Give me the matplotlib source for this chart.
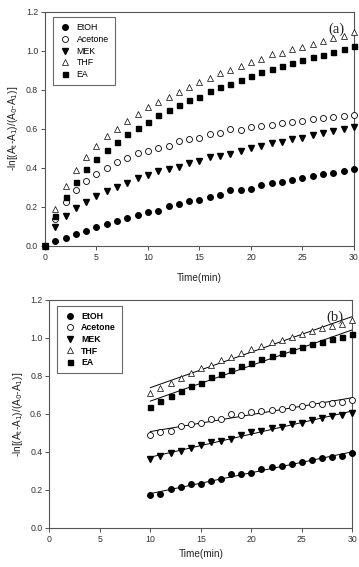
import numpy as np
import matplotlib
matplotlib.use("Agg")
import matplotlib.pyplot as plt

time_min = list(range(0, 31))
etoh = [0.0, 0.022, 0.041, 0.061, 0.077, 0.094, 0.111, 0.127, 0.141, 0.157, 0.173,
        0.179, 0.203, 0.214, 0.229, 0.232, 0.248, 0.258, 0.284, 0.285, 0.289,
        0.311, 0.320, 0.328, 0.337, 0.345, 0.357, 0.368, 0.374, 0.381, 0.393]
acetone = [0.0, 0.136, 0.222, 0.285, 0.331, 0.369, 0.398, 0.428, 0.448, 0.474, 0.487,
           0.503, 0.513, 0.537, 0.545, 0.552, 0.574, 0.576, 0.598, 0.593, 0.609,
           0.615, 0.621, 0.627, 0.636, 0.641, 0.650, 0.655, 0.660, 0.665, 0.672]
mek = [0.0, 0.095, 0.150, 0.192, 0.225, 0.254, 0.279, 0.301, 0.324, 0.345, 0.363,
       0.381, 0.393, 0.405, 0.422, 0.436, 0.453, 0.460, 0.470, 0.487, 0.503,
       0.513, 0.525, 0.533, 0.545, 0.554, 0.568, 0.578, 0.588, 0.597, 0.607]
thf = [0.0, 0.188, 0.307, 0.389, 0.457, 0.511, 0.561, 0.600, 0.641, 0.675, 0.711,
       0.738, 0.764, 0.790, 0.815, 0.841, 0.860, 0.885, 0.899, 0.923, 0.940,
       0.957, 0.981, 0.990, 1.007, 1.021, 1.036, 1.051, 1.063, 1.075, 1.094]
ea = [0.0, 0.151, 0.249, 0.329, 0.391, 0.442, 0.490, 0.531, 0.575, 0.605, 0.636,
      0.668, 0.696, 0.723, 0.747, 0.764, 0.793, 0.812, 0.831, 0.850, 0.868,
      0.891, 0.904, 0.920, 0.937, 0.952, 0.966, 0.980, 0.995, 1.007, 1.022]

series_names = ["EtOH", "Acetone", "MEK", "THF", "EA"]
series_values = [etoh, acetone, mek, thf, ea]
fit_start = 10

styles = [
    dict(marker="o", mfc="black", mec="black", ms=4.0),
    dict(marker="o", mfc="white", mec="black", ms=4.3, mew=0.6),
    dict(marker="v", mfc="black", mec="black", ms=4.0),
    dict(marker="^", mfc="white", mec="black", ms=4.0, mew=0.5),
    dict(marker="s", mfc="black", mec="black", ms=3.6),
]

plt.rcParams["font.family"] = ["Liberation Sans", "DejaVu Sans"]
spine_col = "#555555"

fig = plt.figure(figsize=(3.59, 5.67), dpi=100)
ax1 = fig.add_axes([0.1253, 0.5667, 0.8607, 0.4127])
ax2 = fig.add_axes([0.1373, 0.0688, 0.8441, 0.4021])

t = np.array(time_min)
for name, vals, st in zip(series_names, series_values, styles):
    ax1.plot(t, vals, ls="none", label=name, clip_on=False, zorder=3, **st)

mask = t >= fit_start
for name, vals, st in zip(series_names, series_values, styles):
    v = np.array(vals)
    ax2.plot(t[mask], v[mask], ls="none", label=name, clip_on=False, zorder=3, **st)
    p = np.polyfit(t[mask], v[mask], 1)
    ax2.plot(t[mask], np.polyval(p, t[mask]), color="black", lw=0.7, zorder=2)

ylabel = r"-ln[(A$_{\rm t}$-A$_{\rm 1}$)/(A$_{\rm 0}$-A$_{\rm 1}$)]"
for ax, tag, bold, xpad in [(ax1, "(a)", False, 8), (ax2, "(b)", True, 4)]:
    ax.set_xlim(0, 30)
    ax.set_ylim(0, 1.2)
    ax.set_xticks([0, 5, 10, 15, 20, 25, 30])
    ax.set_yticks([0.0, 0.2, 0.4, 0.6, 0.8, 1.0, 1.2])
    ax.yaxis.set_major_formatter(matplotlib.ticker.FormatStrFormatter("%.1f"))
    ax.tick_params(direction="out", length=3, width=0.6, labelsize=6.3,
                   colors="#333333", pad=2)
    for s in ax.spines.values():
        s.set_color(spine_col)
        s.set_linewidth(0.8)
    ax.set_xlabel("Time(min)", fontsize=7.2, color="#222222", labelpad=xpad)
    ax.set_ylabel(ylabel, fontsize=7.2, color="#222222", labelpad=4)
    ax.text(0.97, 0.955, tag, transform=ax.transAxes, ha="right", va="top",
            fontsize=10.5, family="Liberation Serif", color="#222222")
    leg = ax.legend(loc="upper left", bbox_to_anchor=(0.012, 0.995),
                    frameon=True, fancybox=False, edgecolor="#444444",
                    handletextpad=0.6, labelspacing=0.3, borderpad=0.7,
                    handlelength=1.4, prop={"size": 6.3, "weight": "bold" if bold else "normal"})
    leg.get_frame().set_linewidth(0.8)

fig.savefig("out.png", dpi=100)
